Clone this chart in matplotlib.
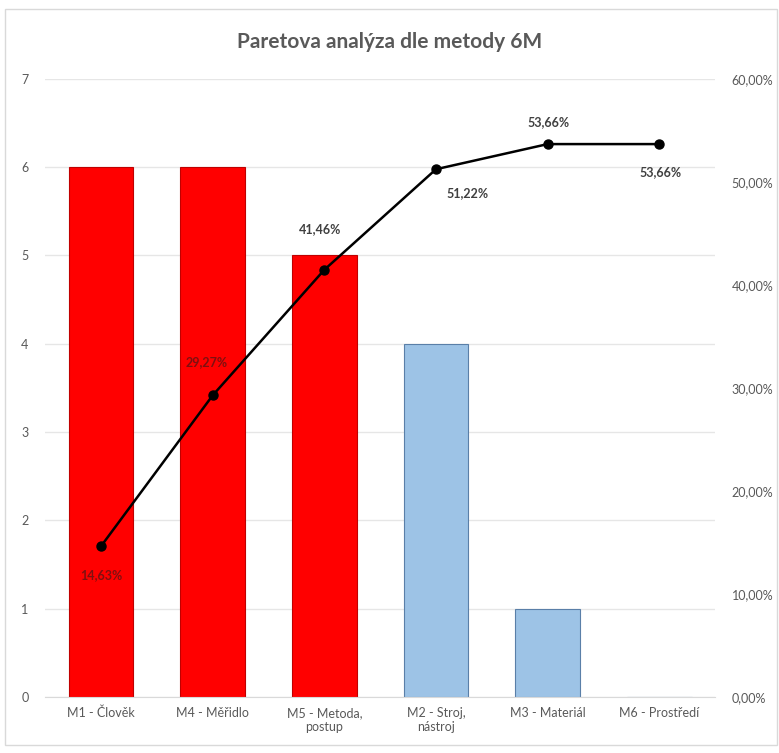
import matplotlib.pyplot as plt
import matplotlib.ticker as ticker
from matplotlib.patches import Rectangle

plt.rcParams['font.family'] = ['Lato', 'DejaVu Sans']

# Pareto data
kategorie = ['M1 - Člověk', 'M4 - Měřidlo', 'M5 - Metoda,\npostup',
             'M2 - Stroj,\nnástroj', 'M3 - Materiál', 'M6 - Prostředí']
pocty = [6, 6, 5, 4, 1, 0]
kumulativne = [0.1463, 0.2927, 0.4146, 0.5122, 0.5366, 0.5366]
barvy = ['#ff0000', '#ff0000', '#ff0000', '#9dc3e6', '#9dc3e6', '#9dc3e6']
okraje = ['#c00000', '#c00000', '#c00000', '#5a7fa8', '#5a7fa8', '#5a7fa8']

fig = plt.figure(figsize=(7.79, 7.53), dpi=100)
fig.patches.append(Rectangle((0.007, 0.01), 0.99, 0.978, transform=fig.transFigure,
                             fill=False, edgecolor='#d9d9d9', linewidth=1))
ax = fig.add_axes([0.058, 0.0744, 0.86, 0.821])
x = range(len(kategorie))
ax.bar(x, pocty, width=0.58, color=barvy, edgecolor=okraje, linewidth=0.8, zorder=2)
ax.set_ylim(0, 7)
ax.set_xlim(-0.5, 5.5)
ax.yaxis.set_major_locator(ticker.MultipleLocator(1))
ax.grid(axis='y', color='#e6e6e6', linewidth=1, zorder=0)
ax.set_axisbelow(True)
for s in ['top', 'right', 'left']:
    ax.spines[s].set_visible(False)
ax.spines['bottom'].set_color('#d9d9d9')
ax.set_xticks(list(x))
ax.set_xticklabels(kategorie, fontsize=9, color='#595959')
ax.tick_params(axis='both', length=0, colors='#595959', labelsize=9)
ax.tick_params(axis='x', pad=7)
ax.tick_params(axis='y', pad=12)

# cumulative line on secondary axis
ax2 = ax.twinx()
ax2.plot(list(x), kumulativne, color='black', linewidth=1.8, marker='o', markersize=6.5, zorder=3)
ax2.set_ylim(0, 0.6)
ax2.yaxis.set_major_locator(ticker.MultipleLocator(0.1))
ax2.yaxis.set_major_formatter(ticker.FuncFormatter(lambda v, p: '{:.2f}%'.format(v * 100).replace('.', ',')))
ax2.tick_params(axis='y', length=0, colors='#595959', labelsize=9, pad=12)
for s in ['top', 'right', 'left', 'bottom']:
    ax2.spines[s].set_visible(False)

# data labels (offsets in points)
posuny = [(0, -21), (-4, 24), (-3, 29), (23, -17), (1, 16), (1, -20)]
barvy_popisu = ['#7f1010', '#7f1010', '#404040', '#404040', '#404040', '#404040']
for i, v in enumerate(kumulativne):
    ax2.annotate('{:.2f}%'.format(v * 100).replace('.', ','), (i, v),
                 xytext=posuny[i], textcoords='offset points', ha='center', va='center',
                 fontsize=9, fontweight='bold', color=barvy_popisu[i])

fig.suptitle('Paretova analýza dle metody 6M', y=0.958, fontsize=15,
             fontweight='bold', color='#595959')
fig.savefig('out.png', dpi=100)
